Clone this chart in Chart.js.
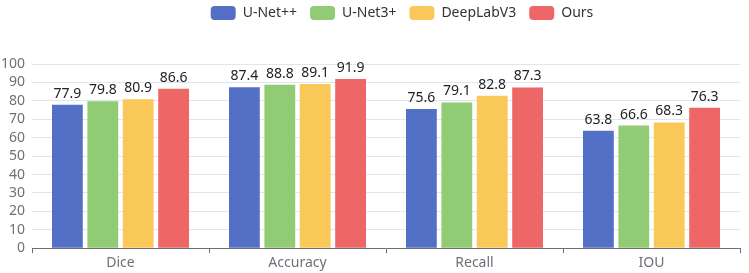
<!DOCTYPE html>
<html>
<head>
<meta charset="utf-8">
<script src="https://cdn.jsdelivr.net/npm/chart.js@4/dist/chart.umd.min.js"></script>
<style>
  html, body { margin: 0; padding: 0; background: #fff; }
  #wrap { width: 749px; height: 273px; }
</style>
</head>
<body>
<div id="wrap"><canvas id="myChart"></canvas></div>
<script>
const categories = ['Dice', 'Accuracy', 'Recall', 'IOU'];
const unetpp = [77.9, 87.4, 75.6, 63.8];
const unet3p = [79.8, 88.8, 79.1, 66.6];
const deeplab = [80.9, 89.1, 82.8, 68.3];
const ours = [86.6, 91.9, 87.3, 76.3];
const yTicks = [0, 10, 20, 30, 40, 50, 60, 70, 80, 90, 100];

const font = '"Noto Sans", sans-serif';

// draws the value above each bar
const barLabels = {
    id: 'barLabels',
    afterDatasetsDraw(chart) {
        const ctx = chart.ctx;
        ctx.save();
        ctx.font = '14px ' + font;
        ctx.fillStyle = '#222';
        ctx.textAlign = 'center';
        ctx.textBaseline = 'bottom';
        chart.data.datasets.forEach((ds, i) => {
            chart.getDatasetMeta(i).data.forEach((bar, j) => {
                ctx.fillText(ds.data[j].toFixed(1), bar.x, bar.y - 4);
            });
        });
        ctx.restore();
    }
};

// extra room under the legend, and nudge it right a bit
const legendGap = {
    id: 'legendGap',
    beforeInit(chart) {
        const fit = chart.legend.fit;
        chart.legend.fit = function () {
            fit.bind(chart.legend)();
            this.height += 27;
        };
    },
    afterLayout(chart) {
        chart.legend.left += 32;
        chart.legend.right += 32;
        chart.legend.top -= 7;
    }
};

const ctx = document.getElementById('myChart').getContext('2d');
const myChart = new Chart(ctx, {
    type: 'bar',
    data: {
        labels: categories,
        datasets: [
            { label: 'U-Net++', data: unetpp, backgroundColor: '#5470c6' },
            { label: 'U-Net3+', data: unet3p, backgroundColor: '#91cc75' },
            { label: 'DeepLabV3', data: deeplab, backgroundColor: '#fac858' },
            { label: 'Ours', data: ours, backgroundColor: '#ee6666' }
        ]
    },
    options: {
        responsive: true,
        maintainAspectRatio: false,
        animation: false,
        datasets: {
            bar: { categoryPercentage: 0.8, barPercentage: 0.87 }
        },
        layout: { padding: { left: 0, right: 9, top: 0, bottom: 1 } },
        plugins: {
            legend: {
                position: 'top',
                labels: {
                    boxWidth: 25,
                    boxHeight: 14,
                    useBorderRadius: true,
                    borderRadius: 4,
                    color: '#333',
                    font: { family: font, size: 14 },
                    padding: 13
                }
            },
            tooltip: { enabled: false }
        },
        scales: {
            x: {
                grid: {
                    offset: true,
                    drawOnChartArea: false,
                    tickLength: 5,
                    color: '#6e7079'
                },
                border: { color: '#6e7079' },
                ticks: {
                    color: '#6e7079',
                    font: { family: font, size: 14 },
                    padding: 1
                }
            },
            y: {
                min: 0,
                max: 100,
                afterBuildTicks: axis => { axis.ticks = yTicks.map(v => ({ value: v })); },
                afterFit: axis => { axis.width = 32; },
                grid: { color: '#e0e6f1', drawTicks: false },
                border: { display: false },
                ticks: {
                    color: '#6e7079',
                    font: { family: font, size: 14 },
                    padding: 7,
                    autoSkip: false
                }
            }
        }
    },
    plugins: [barLabels, legendGap]
});
</script>
</body>
</html>
